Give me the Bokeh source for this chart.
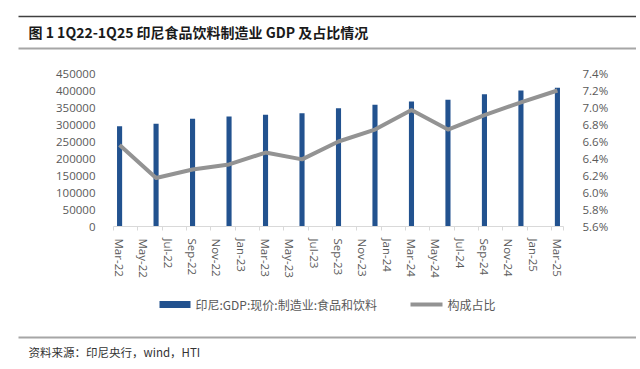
import pandas as pd
from bokeh.plotting import figure
from bokeh.models import (Range1d, LinearAxis, FixedTicker, PrintfTickFormatter,
                          Label, ColumnDataSource)
from bokeh.layouts import column
from bokeh.embed import file_html
from bokeh.resources import INLINE

# ---------------- data ----------------
quarters = ["Mar-22", "Jun-22", "Sep-22", "Dec-22", "Mar-23", "Jun-23", "Sep-23",
            "Dec-23", "Mar-24", "Jun-24", "Sep-24", "Dec-24", "Mar-25"]
gdp_food = [295000, 302000, 317000, 323500, 328500, 333000, 348000,
            358000, 367500, 372500, 389000, 400000, 408000]
share_pct = [6.56, 6.17, 6.27, 6.33, 6.47, 6.39, 6.60,
             6.74, 6.97, 6.74, 6.91, 7.06, 7.20]
tick_labels = ["Mar-22", "May-22", "Jul-22", "Sep-22", "Nov-22", "Jan-23", "Mar-23",
               "May-23", "Jul-23", "Sep-23", "Nov-23", "Jan-24", "Mar-24", "May-24",
               "Jul-24", "Sep-24", "Nov-24", "Jan-25", "Mar-25"]
left_ticks = [0, 50000, 100000, 150000, 200000, 250000, 300000, 350000, 400000, 450000]
right_ticks = [5.6, 5.8, 6.0, 6.2, 6.4, 6.6, 6.8, 7.0, 7.2, 7.4]
title_text = "图 1 1Q22-1Q25 印尼食品饮料制造业 GDP 及占比情况"
source_text = "资料来源：印尼央行，wind，HTI"
bar_name = "印尼:GDP:现价:制造业:食品和饮料"
line_name = "构成占比"

BAR_COLOR = "#22528f"
LINE_COLOR = "#939393"


# month index relative to the first label
def month_index(labels):
    d = pd.to_datetime(labels, format="%b-%y")
    base = d[0]
    return [(x.year - base.year) * 12 + (x.month - base.month) for x in d]


x_q = month_index(quarters)
x_t = month_index(tick_labels)

W = 636
GRAY_TXT = "#595959"
NUM_FONT = "Open Sans"
CJK_FONT = "Noto Sans CJK SC"


def blank(h):
    f = figure(width=W, height=h, x_range=Range1d(0, W), y_range=Range1d(h, 0),
               x_axis_type=None, y_axis_type=None, toolbar_location=None,
               output_backend="svg", min_border=0, outline_line_color=None,
               frame_align=False)
    f.grid.visible = False
    return f


# ---------------- header ----------------
hdr = blank(53)
hdr.segment(x0=[18], y0=[16], x1=[W], y1=[16], line_color="#404040", line_width=1.5)
hdr.segment(x0=[18], y0=[48], x1=[W], y1=[48], line_color="#a6a6a6", line_width=2)
hdr.add_layout(Label(x=28, y=31, text=title_text, text_font=CJK_FONT,
                     text_font_size="14px", text_font_style="bold",
                     text_color="#1a1a1a", text_baseline="middle"))

# ---------------- main chart ----------------
src = ColumnDataSource(dict(x=x_q, gdp=gdp_food, pct=share_pct))
p = figure(width=W, height=237, x_range=Range1d(x_t[0] - 0.5, x_t[-1] + 0.5),
           y_range=Range1d(0, 450000), toolbar_location=None, output_backend="svg",
           min_border_left=113, min_border_right=W - 563, min_border_top=20,
           min_border_bottom=64, outline_line_color=None, y_axis_type=None,
           x_axis_type=None, frame_align=False)
p.grid.visible = False
p.extra_y_ranges = {"pct": Range1d(5.6, 7.4)}

p.vbar(x="x", top="gdp", width=0.42, source=src, fill_color=BAR_COLOR, line_color=None)
p.line(x="x", y="pct", source=src, y_range_name="pct", line_color=LINE_COLOR,
       line_width=4, line_join="round")

# x axis
xa = LinearAxis(ticker=FixedTicker(ticks=x_t,
                                   minor_ticks=[t - 0.5 for t in x_t] + [x_t[-1] + 0.5]),
                major_label_overrides={t: lab for t, lab in zip(x_t, tick_labels)})
xa.axis_line_color = "#d9d9d9"
xa.axis_line_width = 1
xa.major_tick_line_color = None
xa.minor_tick_line_color = "#d9d9d9"
xa.minor_tick_in = 0
xa.minor_tick_out = 4
xa.major_label_orientation = "vertical"
xa.major_label_standoff = 6
xa.major_label_text_font = NUM_FONT
xa.major_label_text_font_size = "11.5px"
xa.major_label_text_color = GRAY_TXT
p.add_layout(xa, "below")

# left axis
ya = LinearAxis(ticker=FixedTicker(ticks=left_ticks),
                formatter=PrintfTickFormatter(format="%d"))
# right axis
yb = LinearAxis(y_range_name="pct", ticker=FixedTicker(ticks=right_ticks),
                formatter=PrintfTickFormatter(format="%.1f%%"))
for ax, st in ((ya, 12), (yb, 13)):
    ax.axis_line_color = None
    ax.major_tick_line_color = None
    ax.minor_tick_line_color = None
    ax.major_label_standoff = st
    ax.major_label_text_font = NUM_FONT
    ax.major_label_text_font_size = "11.5px"
    ax.major_label_text_color = GRAY_TXT
p.add_layout(ya, "left")
p.add_layout(yb, "right")

# ---------------- legend strip ----------------
leg = blank(28)
leg.quad(left=[159], right=[190], top=[10.5], bottom=[17.5], fill_color=BAR_COLOR,
         line_color=None)
leg.segment(x0=[410], y0=[14], x1=[442], y1=[14], line_color=LINE_COLOR, line_width=4)
leg.add_layout(Label(x=195, y=14, text=bar_name, text_font=CJK_FONT,
                     text_font_size="12px", text_color=GRAY_TXT,
                     text_baseline="middle"))
leg.add_layout(Label(x=447, y=14, text=line_name, text_font=CJK_FONT,
                     text_font_size="12px", text_color=GRAY_TXT,
                     text_baseline="middle"))

# ---------------- footer ----------------
ftr = blank(44)
ftr.segment(x0=[18], y0=[19], x1=[W], y1=[19], line_color="#a6a6a6", line_width=2)
ftr.add_layout(Label(x=28, y=33, text=source_text, text_font=CJK_FONT,
                     text_font_size="11.5px", text_color="#333333",
                     text_baseline="middle"))

layout = column(hdr, p, leg, ftr, spacing=0)
open("out.html", "w").write(file_html(layout, INLINE))
